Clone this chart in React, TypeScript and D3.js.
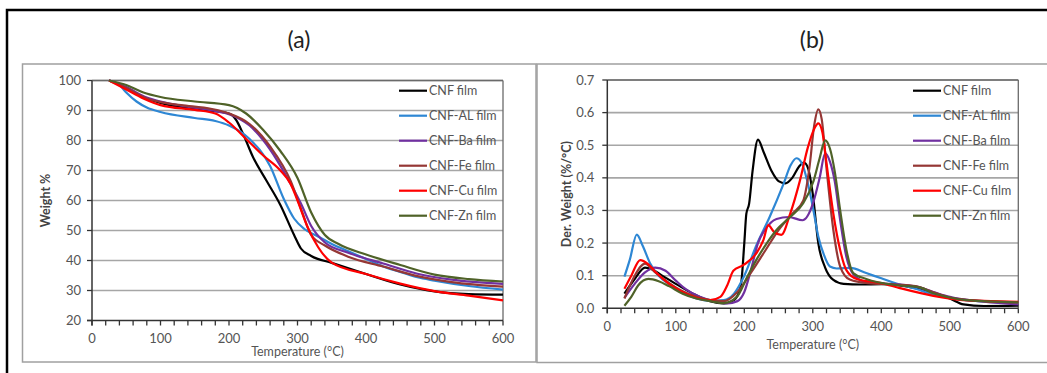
import React from 'react';
import * as d3 from 'd3';

const width = 1047;
const height = 373;
const font = 'Lato, "Open Sans", sans-serif';

const seriesNames = ['CNF film', 'CNF-AL film', 'CNF-Ba film', 'CNF-Fe film', 'CNF-Cu film', 'CNF-Zn film'];
const seriesColors = ['#000000', '#2e87d4', '#7030a0', '#953735', '#ff0000', '#4f6228'];

// (a) TGA curves: [temperature °C, weight %]
const cnfTga = [[25,100],[50,97.5],[75,94.5],[100,92.5],[150,90.5],[200,89],[210,87],[220,82.5],[235,74.5],[255,66.5],[275,58.5],[295,48.5],[305,44],[320,41.5],[350,39.2],[400,35.5],[450,32],[500,29.7],[550,28.8],[600,28.6]];
const alTga = [[25,100],[40,98.5],[50,96],[65,93],[80,91],[100,89.5],[150,87.5],[180,86.5],[200,85],[230,80.5],[260,71.5],[280,60.5],[295,54],[310,50.5],[330,48],[350,45.5],[375,43],[400,40.5],[425,38],[450,36.2],[475,34.4],[500,33.3],[550,31.5],[600,30.3]];
const baTga = [[25,100],[50,97.8],[80,94.3],[100,93],[130,91.6],[175,90],[200,88.8],[230,85],[260,77],[290,65.5],[305,59],[320,51.5],[340,46],[375,42.5],[425,39],[475,35.6],[525,33.6],[600,32.2]];
const feTga = [[25,100],[50,97.5],[80,94],[100,92.8],[130,91.8],[175,90.5],[200,89],[230,85.5],[260,78],[290,66.5],[307,56],[320,48.5],[340,45],[375,41.2],[425,38],[475,34.8],[525,32.8],[600,31.3]];
const cuTga = [[25,100],[50,97],[75,94],[100,91.8],[150,90.2],[180,89],[200,86],[225,80.5],[250,75],[275,70],[290,65.5],[300,60],[315,51],[330,44.5],[350,39.3],[400,35.5],[450,32.3],[500,29.8],[550,28.3],[600,26.7]];
const znTga = [[25,100],[50,98.5],[75,96],[100,94.5],[150,93],[200,91.8],[225,89],[250,83.5],[275,76.5],[300,67.5],[320,56],[340,48.5],[360,45.5],[400,42],[450,38.5],[500,35.3],[550,33.8],[600,33]];

// (b) DTG curves: [temperature °C, derivative weight %/°C]
const cnfDtg = [[25,0.045],[40,0.09],[55,0.125],[65,0.12],[80,0.1],[100,0.075],[125,0.045],[150,0.022],[170,0.015],[185,0.025],[195,0.07],[200,0.2],[203,0.29],[207,0.32],[212,0.42],[220,0.517],[228,0.48],[240,0.42],[250,0.39],[260,0.383],[270,0.4],[280,0.435],[287,0.447],[293,0.43],[300,0.35],[308,0.2],[318,0.125],[330,0.087],[345,0.075],[370,0.073],[400,0.074],[450,0.062],[480,0.045],[500,0.03],[520,0.012],[550,0.007],[600,0.008]];
const alDtg = [[25,0.097],[33,0.15],[43,0.226],[52,0.19],[62,0.14],[75,0.1],[90,0.075],[110,0.048],[130,0.03],[150,0.023],[170,0.025],[185,0.045],[200,0.1],[218,0.195],[237,0.28],[257,0.38],[268,0.44],[276,0.46],[284,0.445],[292,0.39],[301,0.3],[308,0.22],[316,0.165],[325,0.128],[335,0.122],[355,0.124],[378,0.108],[400,0.092],[427,0.073],[450,0.06],[476,0.042],[500,0.032],[524,0.025],[560,0.02],[600,0.018]];
const baDtg = [[25,0.032],[40,0.075],[55,0.11],[70,0.125],[85,0.115],[100,0.085],[115,0.058],[135,0.035],[155,0.022],[175,0.015],[190,0.022],[200,0.05],[210,0.12],[220,0.2],[230,0.24],[247,0.274],[265,0.28],[285,0.27],[300,0.32],[310,0.4],[318,0.475],[325,0.45],[332,0.39],[340,0.27],[349,0.158],[359,0.105],[378,0.08],[403,0.076],[450,0.067],[476,0.05],[500,0.035],[550,0.02],[600,0.012]];
const feDtg = [[25,0.03],[40,0.1],[55,0.137],[70,0.11],[90,0.078],[110,0.052],[130,0.035],[150,0.025],[170,0.022],[190,0.05],[210,0.11],[230,0.175],[250,0.24],[270,0.29],[286,0.33],[295,0.43],[302,0.56],[308,0.61],[313,0.58],[320,0.43],[330,0.24],[340,0.128],[354,0.088],[380,0.077],[420,0.073],[450,0.068],[475,0.05],[500,0.033],[550,0.022],[600,0.018]];
const cuDtg = [[25,0.06],[35,0.1],[48,0.148],[60,0.135],[72,0.108],[90,0.075],[110,0.05],[130,0.032],[150,0.025],[165,0.035],[175,0.07],[184,0.115],[199,0.133],[218,0.17],[228,0.21],[235,0.255],[243,0.235],[254,0.225],[267,0.29],[281,0.39],[293,0.495],[302,0.55],[308,0.567],[314,0.54],[320,0.445],[330,0.29],[340,0.178],[349,0.117],[364,0.09],[400,0.077],[427,0.062],[476,0.038],[520,0.025],[560,0.022],[600,0.02]];
const znDtg = [[25,0.008],[35,0.035],[45,0.07],[60,0.09],[75,0.083],[90,0.068],[110,0.045],[130,0.03],[150,0.022],[170,0.016],[189,0.035],[204,0.095],[218,0.15],[233,0.2],[247,0.24],[267,0.28],[286,0.322],[301,0.39],[310,0.46],[318,0.515],[325,0.49],[332,0.42],[340,0.3],[349,0.18],[359,0.108],[378,0.09],[427,0.07],[456,0.064],[476,0.046],[500,0.033],[524,0.025],[600,0.018]];

const tgaSeries = [cnfTga, alTga, baTga, feTga, cuTga, znTga];
const dtgSeries = [cnfDtg, alDtg, baDtg, feDtg, cuDtg, znDtg];

const tempTicks = [0, 100, 200, 300, 400, 500, 600];
const tgaTicks = [20, 30, 40, 50, 60, 70, 80, 90, 100];
const dtgTicks = [0, 0.1, 0.2, 0.3, 0.4, 0.5, 0.6, 0.7];

function Panel({ title, titleX, box, plot, series, yDomain, yTicks, yFormat, yLabel, yLabelX, yGap, xLabelY, legendX }) {
  const x = d3.scaleLinear().domain([0, 600]).range([plot.left, plot.right]);
  const y = d3.scaleLinear().domain(yDomain).range([plot.bottom, plot.top]);
  const line = d3.line().x(d => x(d[0])).y(d => y(d[1])).curve(d3.curveMonotoneX);
  const minor = x.ticks(24);

  return (
    <g>
      <rect x={box.x} y={box.y} width={box.w} height={box.h} fill="white" stroke="#a0a0a0" strokeWidth="1.5" />
      <text x={titleX} y={48} textAnchor="middle" fontFamily={font} fontSize="23" fill="#222">{title}</text>

      {/* gridlines */}
      {yTicks.slice(1).map(t => (
        <line key={t} x1={plot.left} x2={plot.right} y1={y(t)} y2={y(t)} stroke="#a6a6a6" strokeWidth="1.6" />
      ))}
      <line x1={plot.left} x2={plot.right} y1={plot.top} y2={plot.top} stroke="#6a6a6a" strokeWidth="1.3" />
      <line x1={plot.right} x2={plot.right} y1={plot.top} y2={plot.bottom} stroke="#6a6a6a" strokeWidth="1.3" />

      {series.map((s, i) => (
        <path key={i} d={line(s)} fill="none" stroke={seriesColors[i]} strokeWidth="2.2" />
      ))}

      {/* axes */}
      <line x1={plot.left} x2={plot.left} y1={plot.top} y2={plot.bottom + 5} stroke="#333" strokeWidth="1.5" />
      <line x1={plot.left - 5} x2={plot.right} y1={plot.bottom} y2={plot.bottom} stroke="#333" strokeWidth="1.5" />
      {yTicks.map(t => (
        <g key={t}>
          <line x1={plot.left - 5} x2={plot.left} y1={y(t)} y2={y(t)} stroke="#333" strokeWidth="1.3" />
          <text x={plot.left - yGap} y={y(t) + 4.5} textAnchor="end" fontFamily={font} fontSize="13" fill="#555">{yFormat(t)}</text>
        </g>
      ))}
      {minor.map(t => (
        <line key={t} x1={x(t)} x2={x(t)} y1={plot.bottom} y2={plot.bottom + 5} stroke="#333" strokeWidth="1.3" />
      ))}
      {tempTicks.map(t => (
        <text key={t} x={x(t)} y={plot.bottom + 22.5} textAnchor="middle" fontFamily={font} fontSize="13" fill="#555">{t}</text>
      ))}
      <text x={(plot.left + plot.right) / 2} y={xLabelY} textAnchor="middle" fontFamily={font} fontSize="12.5" fill="#555">Temperature (°C)</text>
      <text transform={`translate(${yLabelX}, ${(plot.top + plot.bottom) / 2}) rotate(-90)`} textAnchor="middle" fontFamily={font} fontSize="12.5" fontWeight="bold" fill="#444">{yLabel}</text>

      {/* legend */}
      {seriesNames.map((name, i) => (
        <g key={name} transform={`translate(${legendX}, ${90.7 + i * 25})`}>
          <line x1={0} x2={28} y1={0} y2={0} stroke={seriesColors[i]} strokeWidth="2.2" />
          <text x={30} y={4.5} fontFamily={font} fontSize="12.5" fill="#555">{name}</text>
        </g>
      ))}
    </g>
  );
}

export default function App() {
  return (
    <svg width={width} height={height} style={{ position: 'absolute', left: 0, top: 0, background: 'white' }}>
      <rect x={7} y={10} width={1100} height={400} fill="white" stroke="#000" strokeWidth="2.5" />
      <Panel
        title="(a)" titleX={299}
        box={{ x: 22.5, y: 64, w: 513.5, h: 298 }}
        plot={{ left: 92, right: 503, top: 80.5, bottom: 320.5 }}
        series={tgaSeries} yDomain={[20, 100]} yTicks={tgaTicks} yFormat={d => d}
        yLabel="Weight %" yLabelX={50} yGap={11} xLabelY={356} legendX={399}
      />
      <Panel
        title="(b)" titleX={812}
        box={{ x: 537, y: 64, w: 520, h: 298.5 }}
        plot={{ left: 607.3, right: 1018.3, top: 80, bottom: 308.3 }}
        series={dtgSeries} yDomain={[0, 0.7]} yTicks={dtgTicks} yFormat={d => d.toFixed(1)}
        yLabel="Der. Weight (%/°C)" yLabelX={571} yGap={13} xLabelY={349} legendX={913}
      />
    </svg>
  );
}
